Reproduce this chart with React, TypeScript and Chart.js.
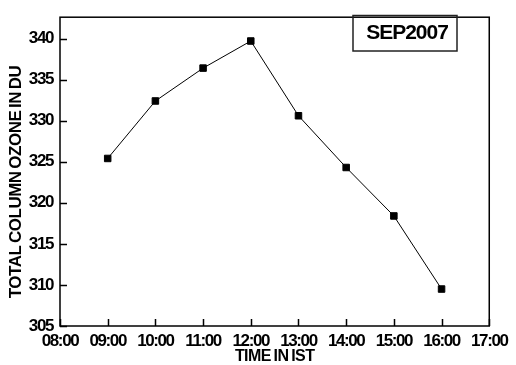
import React, { useEffect, useRef } from "react";
import { Chart, registerables } from "chart.js";

Chart.register(...registerables);

const HOURS = [9, 10, 11, 12, 13, 14, 15, 16];
const OZONE = [325.4, 332.4, 336.4, 339.7, 330.6, 324.3, 318.4, 309.5];
const X_MIN = 8;
const X_MAX = 17;
const Y_MIN = 305;
const Y_MAX = 342.6;
const Y_STEP = 5;
const X_TITLE = "TIME IN IST";
const Y_TITLE = "TOTAL COLUMN OZONE IN DU";
const BOX_LABEL = "SEP2007";

const FONT = 'Arial, "Liberation Sans", sans-serif';

function patchScale(scale: any, letterSpacing: string) {
  if (!scale || scale.__patched) return;
  scale.__patched = true;
  const origLabels = scale.drawLabels;
  scale.drawLabels = function (area: any) {
    const ctx = this.ctx;
    ctx.save();
    ctx.letterSpacing = letterSpacing;
    origLabels.call(this, area);
    ctx.restore();
  };
  const origTitle = scale.drawTitle;
  scale.drawTitle = function () {
    const ctx = this.ctx;
    ctx.save();
    ctx.letterSpacing = "-0.6px";
    ctx.wordSpacing = "-1px";
    origTitle.call(this);
    ctx.restore();
  };
}

const decorPlugin = {
  id: "decor",
  beforeDraw(chart: any) {
    patchScale(chart.scales.x, "-1.4px");
    patchScale(chart.scales.y, "-1.4px");
  },
  afterDraw(chart: any) {
    const { ctx, chartArea } = chart;
    const { left, right, top, bottom } = chartArea;
    const xs = chart.scales.x;
    const ys = chart.scales.y;
    ctx.save();
    ctx.strokeStyle = "#000";
    ctx.lineWidth = 1.5;
    // inner ticks
    ctx.beginPath();
    xs.ticks.forEach((t: any) => {
      const px = Math.round(xs.getPixelForValue(t.value)) + 0.5;
      ctx.moveTo(px, bottom);
      ctx.lineTo(px, bottom - 7);
    });
    ys.ticks.forEach((t: any) => {
      const py = Math.round(ys.getPixelForValue(t.value)) + 0.5;
      ctx.moveTo(left, py);
      ctx.lineTo(left + 7, py);
    });
    ctx.stroke();
    // frame
    ctx.lineWidth = 1.5;
    ctx.strokeRect(left, top, right - left, bottom - top);

    // y title
    ctx.save();
    ctx.translate(16, 182);
    ctx.rotate(-Math.PI / 2);
    ctx.font = `bold 17px ${FONT}`;
    ctx.fillStyle = "#000";
    ctx.textAlign = "center";
    ctx.textBaseline = "middle";
    (ctx as any).letterSpacing = "-0.5px";
    (ctx as any).wordSpacing = "-1.5px";
    ctx.fillText(Y_TITLE, 0, 0);
    ctx.restore();

    // label box
    ctx.lineWidth = 1.5;
    ctx.strokeStyle = "#222";
    ctx.strokeRect(353, 15.5, 104, 35.5);
    ctx.font = `bold 21px ${FONT}`;
    ctx.fillStyle = "#000";
    ctx.textAlign = "center";
    ctx.textBaseline = "middle";
    (ctx as any).letterSpacing = "-1px";
    ctx.fillText(BOX_LABEL, 407, 33.5);
    ctx.restore();
  },
};

export default function App() {
  const ref = useRef<HTMLCanvasElement>(null);

  useEffect(() => {
    document.body.style.margin = "0";
    const canvas = ref.current;
    if (!canvas) return;
    const chart = new Chart(canvas, {
      type: "line",
      data: {
        datasets: [
          {
            data: HOURS.map((h, i) => ({ x: h, y: OZONE[i] })),
            borderColor: "#000",
            borderWidth: 1,
            backgroundColor: "#000",
            pointStyle: "rect",
            pointRadius: 4.6,
            pointBorderWidth: 1,
            pointBorderColor: "#000",
            pointBackgroundColor: "#000",
            tension: 0,
          },
        ],
      },
      options: {
        animation: false,
        responsive: false,
        devicePixelRatio: 1,
        layout: { padding: { top: 9, right: 20, left: 0, bottom: 0 } },
        plugins: {
          legend: { display: false },
          tooltip: { enabled: false },
        },
        scales: {
          x: {
            type: "linear",
            min: X_MIN,
            max: X_MAX,
            grid: { display: false, drawTicks: false },
            border: { display: false },
            afterFit: (s: any) => {
              s.height = 39;
            },
            ticks: {
              stepSize: 1,
              autoSkip: false,
              maxRotation: 0,
              padding: 5,
              color: "#000",
              font: { family: FONT, size: 17, weight: "bold" },
              callback: (v: any) => String(v).padStart(2, "0") + ":00",
            },
            title: {
              display: true,
              text: X_TITLE,
              color: "#000",
              font: { family: FONT, size: 16, weight: "bold", lineHeight: 1 },
              padding: { top: 0, bottom: 0 },
            },
          },
          y: {
            min: Y_MIN,
            max: Y_MAX,
            grid: { display: false, drawTicks: false },
            border: { display: false },
            afterFit: (s: any) => {
              s.width = 60;
            },
            ticks: {
              stepSize: Y_STEP,
              includeBounds: false,
              padding: 7,
              color: "#000",
              font: { family: FONT, size: 17, weight: "bold" },
            },
          },
        },
      },
      plugins: [decorPlugin],
    } as any);
    return () => chart.destroy();
  }, []);

  return <canvas ref={ref} width={516} height={365} style={{ display: "block" }} />;
}
